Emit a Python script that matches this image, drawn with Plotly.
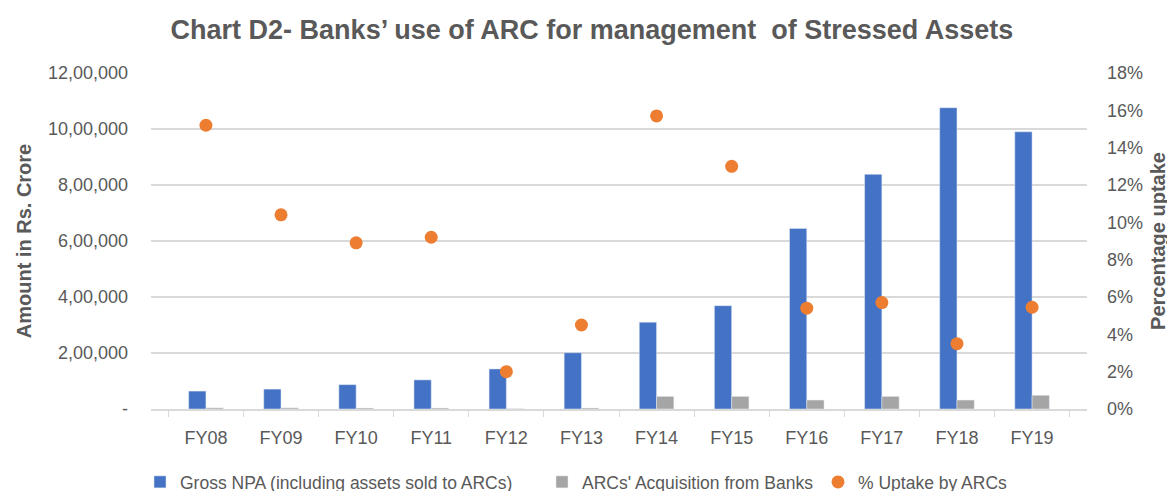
import plotly.graph_objects as go

categories = ["FY08", "FY09", "FY10", "FY11", "FY12", "FY13",
              "FY14", "FY15", "FY16", "FY17", "FY18", "FY19"]
gross_npa = [64000, 71000, 87000, 104000, 143000, 201000,
             310000, 369000, 645000, 838000, 1076000, 990000]
arc_acq = [4000, 4000, 3500, 3500, 1000, 3500,
           45000, 45000, 32000, 45000, 32000, 49000]
uptake_pct = [15.2, 10.4, 8.9, 9.2, 2.0, 4.5,
              15.7, 13.0, 5.4, 5.7, 3.5, 5.45]

left_tickvals = [0, 200000, 400000, 600000, 800000, 1000000, 1200000]
left_ticktext = ["-", "2,00,000", "4,00,000", "6,00,000", "8,00,000", "10,00,000", "12,00,000"]
right_tickvals = [0, 2, 4, 6, 8, 10, 12, 14, 16, 18]
right_ticktext = [f"{v}%" for v in right_tickvals]

TXT = "#595959"
FONT = "Liberation Sans"

fig = go.Figure()
fig.add_trace(go.Bar(x=categories, y=gross_npa, name="Gross NPA (including assets sold to ARCs)",
                     marker_color="#4472C4", legend="legend", showlegend=True))
fig.add_trace(go.Bar(x=categories, y=arc_acq, name="ARCs' Acquisition from Banks",
                     marker_color="#A5A5A5", legend="legend2", showlegend=True))
fig.add_trace(go.Scatter(x=categories, y=uptake_pct, name="% Uptake by ARCs", mode="markers",
                         marker=dict(color="#ED7D31", size=13), yaxis="y2",
                         legend="legend3", showlegend=True))

leg = dict(orientation="h", xref="container", yref="container",
           yanchor="middle", y=1 - 474 / 491, xanchor="left",
           font=dict(family=FONT, size=17.5, color=TXT), bgcolor="rgba(0,0,0,0)",
           itemwidth=30)

fig.update_layout(
    width=1175, height=491,
    margin=dict(l=143, r=96, t=65, b=90, autoexpand=False),
    paper_bgcolor="white", plot_bgcolor="white",
    showlegend=True,
    barmode="group", bargap=0.54, bargroupgap=0,
    title=dict(text="<b>Chart D2- Banks’ use of ARC for management  of Stressed Assets</b>",
               x=0.497, xanchor="center", xref="container",
               y=1 - 22 / 491, yanchor="middle", yref="container",
               font=dict(family=FONT, size=27, color=TXT)),
    xaxis=dict(type="category", showline=True, linecolor="#d9d9d9", linewidth=1.5,
               ticks="outside", tickson="boundaries", tickcolor="#d9d9d9", ticklen=6,
               tickfont=dict(family=FONT, size=18, color=TXT), showgrid=False,
               ticklabelstandoff=12, automargin=False),
    yaxis=dict(range=[0, 1200000], tickvals=left_tickvals, ticktext=left_ticktext,
               tickfont=dict(family=FONT, size=18, color=TXT), showgrid=True,
               gridcolor="#d9d9d9", gridwidth=1.5, zeroline=False, ticklabelstandoff=22,
               automargin=False,
               title=dict(text="<b>Amount in Rs. Crore</b>", standoff=10,
                          font=dict(family=FONT, size=20, color=TXT))),
    yaxis2=dict(range=[0, 18], overlaying="y", side="right", tickvals=right_tickvals,
                ticktext=right_ticktext, showgrid=False, zeroline=False,
                tickfont=dict(family=FONT, size=18, color=TXT), ticklabelstandoff=19,
                automargin=False,
                title=dict(text="<b>Percentage uptake</b>", standoff=8,
                           font=dict(family=FONT, size=20, color=TXT))),
    legend=dict(leg, x=132 / 1175),
    legend2=dict(leg, x=534 / 1175),
    legend3=dict(leg, x=810 / 1175),
)

fig.write_html("out.html")
